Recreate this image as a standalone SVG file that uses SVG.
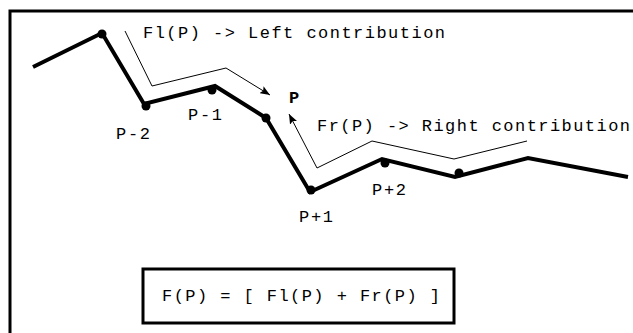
<svg xmlns="http://www.w3.org/2000/svg" width="633" height="333" viewBox="0 0 633 333">
<style>
.thick{fill:none;stroke:#000;stroke-width:4;stroke-linejoin:miter}
.thin{fill:none;stroke:#000;stroke-width:1}
.dot{fill:#000}
text{font-family:"Liberation Mono","Courier New",monospace;font-size:17px;fill:#000}
.b{font-weight:bold}
</style>
<defs>
<marker id="ah" viewBox="0 0 10 8" refX="10" refY="4" markerWidth="10" markerHeight="8" markerUnits="userSpaceOnUse" orient="auto">
<path d="M0,0 L10,4 L0,8 L2,4 Z" fill="#000"/>
</marker>
</defs>
<rect width="633" height="333" fill="#fff"/>
<g id="frame"><path d="M10,340 V11 H640" fill="none" stroke="#000" stroke-width="3"/></g>
<g id="curve">
<polyline class="thick" points="33,67 102,33 144,104 215,86 266,118 310,192 382,159 455,177 528,158 628,177"/>
<circle class="dot" cx="102" cy="34" r="4.5"/>
<circle class="dot" cx="146" cy="106" r="4.5"/>
<circle class="dot" cx="212" cy="90" r="4.5"/>
<circle class="dot" cx="266" cy="118" r="4.5"/>
<circle class="dot" cx="311" cy="190" r="4.5"/>
<circle class="dot" cx="385" cy="163" r="4.5"/>
<circle class="dot" cx="459" cy="173" r="4.5"/>
</g>
<g id="connectors">
<polyline class="thin" points="125,31 152,86 226,68 270,95" marker-end="url(#ah)"/>
<polyline class="thin" points="527,141 454,159 372,141 317,168 289,114" marker-end="url(#ah)"/>
</g>
<g id="labels">
<text x="143" y="38" textLength="302" lengthAdjust="spacing">Fl(P) -&gt; Left contribution</text>
<text x="289" y="103" class="b">P</text>
<text x="317" y="131" textLength="313" lengthAdjust="spacing">Fr(P) -&gt; Right contribution</text>
<text x="116" y="139" textLength="34" lengthAdjust="spacing">P-2</text>
<text x="188" y="120" textLength="34" lengthAdjust="spacing">P-1</text>
<text x="299" y="222" textLength="34" lengthAdjust="spacing">P+1</text>
<text x="372" y="195" textLength="34" lengthAdjust="spacing">P+2</text>
</g>
<g id="formula">
<rect x="143" y="269" width="311" height="54" fill="none" stroke="#000" stroke-width="3"/>
<text x="162" y="301" textLength="278" lengthAdjust="spacing">F(P) = [ Fl(P) + Fr(P) ]</text>
</g>
</svg>
